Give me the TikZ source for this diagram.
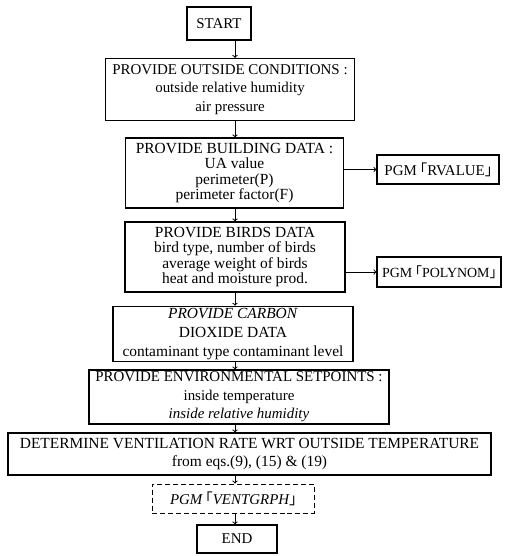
\documentclass[tikz,border=0pt]{standalone}
\usepackage{fontspec}
\setmainfont{Liberation Serif}
\newfontfamily\cjkfont{Noto Sans CJK SC}
\newcommand{\lbrk}{\makebox[0.45em][r]{\cjkfont 「}}
\newcommand{\rbrk}{\makebox[0.45em][l]{\cjkfont 」}}

\begin{document}
\begin{tikzpicture}[x=1bp, y=-1bp,
    box/.style={draw, line width=1.2pt, align=center, inner sep=2pt,
      font=\fontsize{15}{18.5}\selectfont},
    tight/.style={font=\fontsize{15.5}{15.5}\selectfont},
    wide/.style={font=\fontsize{15.5}{19}\selectfont},
    small/.style={font=\fontsize{14}{17}\selectfont},
    flow/.style={->, line width=1pt}]
    \useasboundingbox (0, 0) rectangle (508, 556);

    \coordinate (axis) at (235, 0);

    \node (start) [box, minimum width=64bp, minimum height=33bp] at (219, 23.5) {START};
    \node (outside) [box, minimum width=249bp, minimum height=62bp] at (230, 89.5)
      {PROVIDE OUTSIDE CONDITIONS :\\ outside relative humidity\\ air pressure};
    \node (building) [box, tight, minimum width=218bp, minimum height=70bp] at (234.5, 173)
      {PROVIDE BUILDING DATA :\\ UA value\\ perimeter(P)\\ perimeter factor(F)};
    \node (rvalue) [box, minimum width=122bp, minimum height=29bp] at (438, 169.5)
      {PGM \lbrk RVALUE\rbrk};
    \node (birds) [box, tight, minimum width=220bp, minimum height=70bp] at (235, 257)
      {PROVIDE BIRDS DATA\\ bird type, number of birds\\ average weight of birds\\ heat and moisture prod.};
    \node (polynom) [box, small, minimum width=124bp, minimum height=30bp] at (439, 272)
      {PGM \lbrk POLYNOM\rbrk};
    \node (carbon) [box, wide, minimum width=240bp, minimum height=52bp] at (233, 334)
      {\textit{PROVIDE CARBON}\\ DIOXIDE DATA\\ contaminant type contaminant level};
    \node (setpoints) [box, minimum width=300bp, minimum height=50bp] at (239, 397)
      {PROVIDE ENVIRONMENTAL SETPOINTS :\\ inside temperature\\ \textit{inside relative humidity}};
    \node (ventrate) [box, wide, minimum width=483bp, minimum height=42bp] at (249.5, 454)
      {DETERMINE VENTILATION RATE WRT OUTSIDE TEMPERATURE\\ from eqs.(9), (15) \& (19)};
    \node (ventgrph) [box, line width=1pt, dash pattern=on 5pt off 3pt,
      minimum width=162bp, minimum height=29bp] at (233, 498.5)
      {\textit{PGM \lbrk VENTGRPH\rbrk}};
    \node (end) [box, minimum width=80bp, minimum height=28bp] at (237, 539) {END};

    \draw [flow] (start.south -| axis) -- (outside.north -| axis);
    \draw [flow] (outside.south -| axis) -- (building.north -| axis);
    \draw [flow] (building.south -| axis) -- (birds.north -| axis);
    \draw [flow] (birds.south -| axis) -- (carbon.north -| axis);
    \draw [flow] (carbon.south -| axis) -- (setpoints.north -| axis);
    \draw [flow] (setpoints.south -| axis) -- (ventrate.north -| axis);
    \draw [flow] (ventrate.south -| axis) -- (ventgrph.north -| axis);
    \draw [flow] (ventgrph.south -| axis) -- (end.north -| axis);

    \draw [flow] (building.east |- rvalue) -- (rvalue.west);
    \draw [flow] (birds.east |- polynom) -- (polynom.west);
  \end{tikzpicture}
\end{document}
